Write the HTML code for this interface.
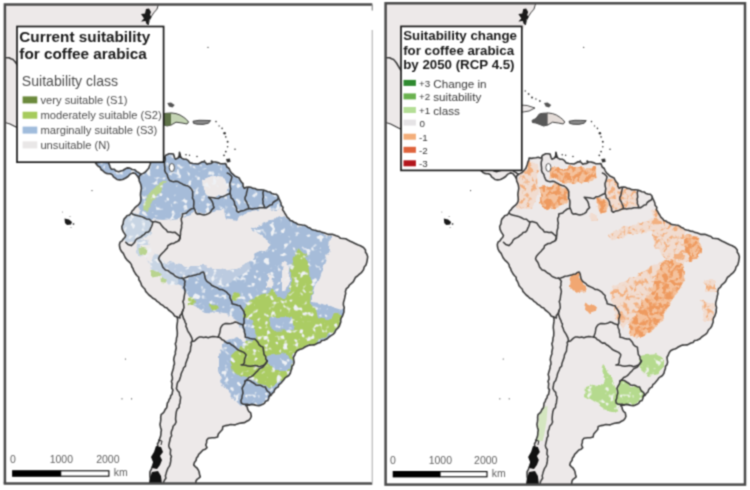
<!DOCTYPE html>
<html><head><meta charset="utf-8">
<style>
html,body{margin:0;padding:0;background:#fff;width:750px;height:490px;overflow:hidden}
svg{display:block}
text{font-family:"Liberation Sans",sans-serif}
</style></head><body>
<svg width="750" height="490" viewBox="0 0 750 490">
<defs>
<path id="land" d="M95.1,162.3 L97.3,162.4 L99.5,162.3 L101.8,162.1 L104.0,161.3 L106.2,162.5 L108.4,162.3 L109.3,164.7 L110.1,167.1 L111.4,169.3 L114.1,169.2 L116.2,171.1 L118.6,171.8 L120.7,171.0 L122.8,170.5 L124.7,169.3 L127.1,167.9 L129.8,168.1 L132.2,169.5 L134.9,169.8 L136.7,171.6 L139.0,172.8 L141.0,174.4 L143.1,173.4 L145.1,172.3 L146.9,170.3 L148.7,168.3 L149.4,166.2 L150.2,164.2 L150.7,162.1 L151.7,160.1 L152.0,158.0 L154.3,158.4 L156.6,158.0 L159.0,157.7 L161.3,157.2 L163.6,158.0 L164.5,158.0 L165.5,155.5 L169.0,153.8 L171.3,153.8 L173.5,154.0 L174.5,157.5 L175.4,159.2 L178.0,158.0 L179.2,156.0 L179.5,152.3 L180.1,154.4 L180.5,156.5 L182.0,158.4 L183.9,159.3 L186.0,159.2 L188.3,160.7 L190.1,162.9 L192.9,163.5 L195.8,163.7 L198.0,164.0 L200.0,163.0 L202.3,161.7 L205.0,162.0 L207.0,164.3 L209.0,163.6 L211.2,163.4 L213.0,162.0 L215.4,162.0 L217.8,162.6 L220.0,163.6 L222.8,163.8 L225.7,163.6 L227.0,167.0 L229.1,168.5 L230.1,170.8 L231.4,172.9 L233.2,174.4 L234.8,176.0 L237.0,177.0 L239.2,178.0 L240.2,180.1 L241.4,182.0 L243.0,183.6 L243.0,186.1 L244.3,188.3 L246.3,187.2 L248.6,187.0 L250.8,187.3 L252.8,188.4 L255.0,188.5 L256.9,189.6 L259.1,189.7 L261.2,189.8 L263.5,190.0 L265.6,190.7 L267.7,191.7 L270.0,192.0 L271.8,193.4 L273.9,194.1 L276.4,194.2 L278.0,196.0 L278.7,198.4 L280.0,200.7 L281.0,203.0 L281.2,205.3 L283.0,207.3 L282.6,209.7 L283.8,211.4 L284.8,213.2 L286.0,215.0 L287.1,217.1 L288.8,218.6 L290.3,220.4 L292.3,221.0 L294.0,222.3 L296.0,223.0 L297.9,224.4 L300.2,224.7 L302.5,225.0 L304.6,225.2 L306.4,226.1 L308.1,227.4 L310.0,228.0 L311.7,229.5 L313.7,230.0 L315.9,230.4 L317.8,231.2 L320.0,231.4 L321.9,232.4 L324.0,232.7 L326.0,233.5 L327.9,234.4 L330.1,234.4 L332.3,234.2 L334.2,235.0 L336.2,235.8 L338.5,236.5 L340.5,238.3 L343.0,238.5 L345.7,238.7 L347.9,240.0 L350.2,241.2 L352.6,242.3 L355.0,243.5 L357.7,244.8 L360.4,245.8 L363.5,247.5 L365.5,250.0 L365.5,252.2 L366.8,254.0 L367.7,256.7 L367.3,259.6 L366.8,262.3 L366.0,265.0 L364.2,267.1 L363.5,269.8 L362.2,271.6 L360.8,273.2 L359.0,274.5 L357.5,276.0 L355.6,277.2 L354.6,279.2 L353.4,281.6 L351.5,283.3 L349.5,285.0 L348.3,287.2 L346.2,288.9 L345.4,291.4 L345.7,293.6 L345.1,295.7 L344.7,297.9 L344.2,300.0 L343.5,302.4 L343.4,304.9 L344.3,307.4 L343.9,309.8 L343.9,312.0 L343.2,314.0 L342.5,316.0 L341.3,317.8 L340.7,319.8 L340.8,322.0 L340.0,324.1 L339.3,326.2 L338.0,328.0 L335.9,330.0 L334.7,332.7 L333.0,334.4 L331.0,335.7 L329.0,337.0 L326.8,339.1 L324.0,340.3 L321.7,340.5 L320.2,342.5 L318.0,343.0 L316.0,344.0 L314.0,344.9 L311.7,345.0 L309.3,345.1 L307.1,346.0 L305.0,347.0 L303.3,348.2 L301.4,348.9 L299.5,349.5 L297.1,350.8 L295.5,353.0 L294.7,355.2 L293.4,357.2 L293.7,359.7 L294.1,362.3 L293.4,364.8 L291.9,366.4 L291.8,368.6 L291.0,370.5 L290.3,373.2 L288.8,375.5 L286.9,376.7 L285.1,377.9 L283.8,379.8 L282.3,381.5 L280.8,383.3 L278.9,384.7 L278.2,386.9 L276.0,388.1 L274.6,389.7 L274.0,392.0 L272.3,393.4 L271.0,395.2 L269.1,396.3 L268.7,398.5 L267.8,400.6 L265.7,401.2 L264.6,403.2 L262.9,404.3 L260.9,405.1 L258.9,405.6 L256.8,405.5 L254.4,404.9 L252.0,404.4 L249.5,404.9 L245.8,405.5 L247.3,407.1 L247.6,409.2 L248.8,411.3 L250.7,412.8 L251.3,416.5 L250.4,418.5 L248.9,420.2 L246.7,421.3 L244.6,422.6 L242.1,422.9 L239.6,423.2 L237.2,423.9 L235.2,424.9 L233.0,424.7 L230.8,424.5 L228.7,425.1 L225.8,425.6 L222.9,426.4 L222.4,429.5 L220.3,431.7 L218.3,434.0 L217.6,437.0 L214.8,437.7 L212.0,437.8 L208.3,438.3 L206.7,440.3 L206.6,442.8 L205.7,445.0 L207.0,447.6 L205.3,449.3 L203.0,450.0 L200.3,452.9 L198.7,454.4 L197.9,456.4 L196.5,458.0 L196.0,460.5 L194.4,462.5 L193.7,464.9 L195.2,466.6 L197.0,468.0 L198.1,469.7 L199.0,471.5 L199.5,474.2 L200.3,476.8 L198.8,478.2 L197.1,479.3 L196.0,481.0 L195.6,483.9 L193.7,486.0 L191.6,485.7 L189.5,485.5 L187.4,485.7 L185.4,485.8 L183.3,486.1 L181.2,487.0 L179.1,486.1 L177.0,485.8 L174.9,485.5 L172.8,485.8 L170.8,485.7 L168.7,486.1 L166.6,487.0 L164.5,486.2 L162.4,485.9 L160.3,485.4 L158.2,485.9 L156.2,485.6 L154.1,486.0 L152.0,486.9 L149.9,486.0 L150.0,483.6 L150.3,481.2 L150.4,478.9 L150.0,476.5 L149.9,474.1 L150.0,471.6 L151.3,469.4 L152.0,467.0 L153.1,464.9 L153.8,462.7 L154.3,460.3 L155.2,458.2 L155.6,456.1 L156.5,454.2 L156.7,452.1 L157.6,450.2 L157.5,448.0 L157.8,446.0 L157.5,443.8 L158.7,442.0 L159.3,440.0 L159.9,438.0 L160.6,436.1 L160.9,434.1 L161.0,432.0 L161.4,430.0 L160.5,427.2 L160.0,424.3 L160.5,421.9 L160.8,419.5 L160.7,417.1 L161.1,414.7 L162.9,413.2 L164.3,411.4 L165.2,409.4 L166.7,407.7 L167.1,405.5 L167.3,403.2 L168.6,401.4 L169.1,399.4 L170.4,397.7 L170.7,395.7 L172.1,394.1 L172.4,392.0 L172.9,390.0 L171.7,388.0 L171.9,385.7 L172.1,383.5 L171.4,381.4 L172.4,379.2 L172.3,376.9 L171.6,374.5 L172.2,372.2 L172.9,370.0 L173.5,368.0 L173.6,366.0 L174.4,364.1 L174.3,362.0 L173.7,359.9 L174.0,357.9 L174.5,356.0 L175.4,354.0 L175.3,352.0 L175.7,350.0 L176.2,348.0 L175.9,346.0 L175.3,343.9 L176.0,342.0 L176.4,340.0 L176.5,338.0 L177.2,336.0 L177.3,334.0 L177.3,332.0 L177.1,330.0 L176.8,327.9 L176.9,325.7 L177.2,323.6 L177.5,321.4 L177.6,319.2 L177.1,317.1 L174.5,315.9 L173.0,313.5 L170.8,311.7 L168.6,310.0 L167.0,308.1 L164.7,307.2 L163.0,305.5 L160.8,304.4 L159.1,302.7 L157.1,301.4 L155.4,299.4 L152.9,298.3 L151.0,296.5 L149.0,295.0 L147.4,293.2 L145.7,291.4 L145.0,289.2 L143.3,287.5 L141.7,285.8 L141.0,283.5 L140.1,281.5 L138.9,279.7 L138.7,277.3 L137.1,275.7 L135.7,274.1 L134.7,272.3 L133.6,270.5 L133.0,268.5 L131.8,266.8 L131.4,264.6 L130.2,262.9 L128.6,261.4 L126.9,259.8 L125.5,258.1 L124.5,256.0 L123.3,253.4 L121.4,251.4 L120.2,249.1 L119.6,246.7 L119.4,244.4 L120.1,242.2 L122.1,240.8 L123.5,238.8 L125.0,237.3 L125.7,235.4 L123.5,232.1 L122.2,229.4 L121.8,226.5 L123.1,223.8 L123.5,220.8 L124.2,218.9 L125.7,217.4 L126.9,215.8 L129.5,215.0 L131.3,213.0 L132.0,211.0 L133.6,209.6 L134.8,207.8 L136.4,206.4 L138.1,205.1 L139.6,203.5 L140.6,201.7 L140.9,199.5 L140.8,197.3 L140.5,195.1 L140.6,192.9 L141.0,190.7 L141.4,188.3 L141.1,185.9 L140.5,183.6 L139.3,181.2 L139.0,178.5 L136.9,175.4 L135.3,173.5 L132.9,172.9 L129.8,174.4 L128.0,176.5 L125.7,178.0 L122.7,179.5 L119.8,179.9 L117.0,179.5 L115.3,178.1 L113.5,176.9 L112.4,174.9 L110.5,173.7 L108.4,173.7 L106.3,173.4 L104.4,172.3 L102.9,170.7 L101.0,169.5 L100.2,167.2 L98.2,166.2 L96.5,164.4 Z"/>
<path id="ca" d="M0,0 L160,0 L158.2,5.2 L157,9.1 L153.7,12.9 L151.5,16.2 L149.3,20.6 L148.2,25 L140,40 L120,80 L100,120 L96,150 L60,140 L30,133 L21,129.5 L16,127 L10,124 L5,122.5 L0,122 Z"/>
<clipPath id="landclip"><use href="#land"/></clipPath>
<filter id="soft" x="0" y="0" width="750" height="490" filterUnits="userSpaceOnUse" color-interpolation-filters="sRGB"><feConvolveMatrix order="3" kernelMatrix="0.04387 0.12171 0.04387 0.12171 0.33767 0.12171 0.04387 0.12171 0.04387" divisor="1" edgeMode="duplicate"/></filter>
<filter id="rough" x="0" y="0" width="750" height="490" filterUnits="userSpaceOnUse">
<feTurbulence type="fractalNoise" baseFrequency="0.12" numOctaves="2" seed="21" result="t"/>
<feDisplacementMap in="SourceGraphic" in2="t" scale="7" xChannelSelector="R" yChannelSelector="G"/></filter>
<clipPath id="colclip"><path d="M136,165 L150,160 L165,155 L185,156 L205,160 L228,163 L235,175 L245,185 L262,188 L280,195 L282,205 L278,210 L265,209 L250,211 L240,216 L236,214 L230,210 L226,206 L215,213 L205,214 L196,210 L192,213 L180,218 L165,220 L150,219 L140,216 Z"/><path d="M222,200 L236,200 L240,215 L236,222 L226,220 Z"/><path d="M95,160 L141,160 L143,182 L95,182 Z"/><path d="M160,268 L170,262 L185,266 L200,266 L215,268 L232,270 L240,268 L250,262 L255,254 L262,252 L268,250 L272,244 L262,236 L252,229 L268,222 L285,216 L295,222 L308,225 L318,231 L330,236 L329,250 L322,268 L318,280 L313,291 L313,302 L330,306 L346,311 L346,330 L330,338 L310,345 L296,352 L292,360 L290,372 L282,372 L270,352 L260,345 L248,338 L242,330 L240,322 L230,315 L220,313 L205,312 L192,305 L186,295 L182,285 L172,280 L164,275 Z"/><path d="M224,342 L236,337 L250,345 L262,352 L275,355 L290,360 L292,372 L285,385 L272,398 L260,406 L240,406 L230,396 L223,384 L220,368 L220,355 Z"/><path d="M122,214 L140,214 L152,220 L152,235 L140,240 L128,244 L121,236 Z"/><path d="M135,240 L148,240 L152,252 L160,258 L168,266 L176,272 L178,285 L170,285 L162,277 L152,268 L145,258 L136,252 Z"/><path d="M299,249 L306,256 L309,265 L311,280 L312,292 L311,305 L318,310 L330,313 L341,315 L343,318 L339,325 L333,333 L322,339 L310,345 L298,351 L293,356 L291,372 L287,376 L280,382 L270,387 L260,384 L250,379 L240,376 L232.9,370 L230,358.6 L238.6,350 L245,344 L247,332 L244,320 L243,312 L248,304 L256,297 L268,292 L280,289 L291,281 L291,268 L293,258 Z"/><path d="M187,299 L190,297 L194,298 L195,301 L192,304 L188,303 Z"/><path d="M211,306 L214,304 L218,305 L219,308 L216,311 L212,310 Z"/><path d="M232,296 L236,293 L240,295 L239,300 L235,302 L232,300 Z"/></clipPath>
<clipPath id="colclipR"><path d="M267.6,354.7 L281,353.1 L289.4,358 L289.4,367.8 L284.4,374.3 L274.4,375.9 L265.9,369.4 L265.1,361.2 Z"/><path d="M245.2,381 L249.5,380.4 L254.4,383.5 L258,385.3 L265.4,387.1 L270.3,394.5 L269.1,396.3 L267.8,400.6 L262.9,404.3 L256.8,405.5 L249.5,404.9 L243.4,404.3 L240.9,400.6 L242.1,395.7 L243.4,385.9 Z"/><path d="M227.8,364.0 L232.9,370.0 L237.0,380.0 L241.1,390.0 L243.2,398.0 L244.2,410.0 L235.0,413.0 L224.7,405.0 L216.5,400.0 L208.3,396.0 L209.3,387.0 L219.6,384.0 L228.8,386.0 L227.8,378.0 L225.7,370.0 Z"/></clipPath>
<filter id="spkW" x="0" y="0" width="750" height="490" filterUnits="userSpaceOnUse">
<feTurbulence type="fractalNoise" baseFrequency="0.17" numOctaves="2" seed="11" result="n"/>
<feColorMatrix in="n" type="matrix" values="0 0 0 0 0  0 0 0 0 0  0 0 0 0 0  0 0 0 7 -4.1" result="m0"/>
<feGaussianBlur in="m0" stdDeviation="0.5" result="m"/>
<feComposite in="SourceGraphic" in2="m" operator="in"/></filter>
<filter id="spkO" x="0" y="0" width="750" height="490" filterUnits="userSpaceOnUse">
<feTurbulence type="fractalNoise" baseFrequency="0.2" numOctaves="2" seed="5" result="n"/>
<feColorMatrix in="n" type="matrix" values="0 0 0 0 0  0 0 0 0 0  0 0 0 0 0  0 0 0 7 -3.0" result="m0"/>
<feGaussianBlur in="m0" stdDeviation="0.5" result="m"/>
<feComposite in="SourceGraphic" in2="m" operator="in"/></filter>
<filter id="spkO2" x="0" y="0" width="750" height="490" filterUnits="userSpaceOnUse">
<feTurbulence type="fractalNoise" baseFrequency="0.2" numOctaves="2" seed="8" result="n"/>
<feColorMatrix in="n" type="matrix" values="0 0 0 0 0  0 0 0 0 0  0 0 0 0 0  0 0 0 7 -3.6" result="m0"/>
<feGaussianBlur in="m0" stdDeviation="0.5" result="m"/>
<feComposite in="SourceGraphic" in2="m" operator="in"/></filter>
<clipPath id="clipL"><rect x="5" y="5" width="367" height="478"/></clipPath>
<clipPath id="clipR"><rect x="385.5" y="4" width="359" height="480"/></clipPath>
<g id="borders" fill="none" stroke="#3a3a3a" stroke-width="1.55" stroke-linejoin="round" stroke-linecap="round">
<polyline points="165.0,157.0 165.3,159.6 164.5,162.0 164.4,164.1 164.6,166.2 164.9,168.3 164.7,170.4 165.5,172.4 167.1,174.2 167.6,176.5 168.5,178.6 169.6,180.6 171.6,181.3 173.6,181.8 175.9,181.2 177.9,181.6 179.8,182.7 181.8,183.6 183.7,184.8 185.8,185.5 188.0,186.0 190.0,187.5 191.6,189.4 192.7,191.7 192.6,193.9 192.7,196.0 192.4,198.2 193.7,200.2 193.9,202.4 193.8,204.5 193.6,206.7 194.3,208.7 195.2,210.5 195.7,212.6 197.3,214.1 199.6,213.8 201.7,214.4 203.9,215.0 206.2,214.5 208.4,213.6 210.4,212.3 211.8,209.6 214.1,207.6 213.3,205.7 213.0,203.7 212.3,201.9 211.3,200.1 208.5,197.3 211.0,197.4 213.5,197.8 216.0,198.3 218.7,198.4 220.9,196.7 223.5,196.4 225.6,195.4 227.8,194.3 230.0,193.6"/>
<polyline points="227.2,173.0 229.1,173.9 230.6,175.3 231.9,176.8 231.4,179.1 230.6,181.4 229.8,183.6 230.0,186.1 230.7,188.6 230.2,191.1 230.0,193.6 230.8,195.5 231.0,197.8 232.8,199.2 234.4,201.8 234.7,204.8 235.9,206.5 236.6,208.5 236.6,210.8 238.4,212.3 241.1,210.9 244.0,210.4 246.7,209.2 249.6,208.5 252.1,209.1 254.5,208.5 257.0,208.5 259.4,207.7 262.0,207.8 264.5,207.6 266.6,207.6 268.3,206.3 270.0,205.1 272.0,204.8 273.1,202.5 275.2,201.0 277.6,199.8 278.5,197.3"/>
<polyline points="247.7,188.0 247.2,190.4 246.6,192.7 246.2,195.1 245.0,197.3 245.1,199.8 246.5,201.8 247.4,204.0 248.4,206.1 248.7,208.5"/>
<polyline points="263.6,190.8 262.9,192.8 263.2,195.0 263.4,197.1 262.7,199.2 263.1,201.3 263.0,203.5 264.0,205.5 264.5,207.6"/>
<polyline points="193.6,208.5 191.4,208.8 189.7,210.0 188.0,211.3 186.5,213.0 184.4,213.4 182.4,214.1 182.4,216.4 181.3,218.5 181.4,220.8 182.0,223.1 181.5,225.3 181.6,227.7 180.9,230.0 180.5,232.3 180.5,234.7 179.9,237.6 179.0,240.4"/>
<polyline points="131.3,213.0 133.3,214.6 135.7,215.2 138.1,215.8 141.0,216.4 143.7,217.5 146.3,218.9 149.3,219.2 150.9,220.8 152.7,222.0 155.2,221.6 157.6,222.2 160.0,223.1 161.3,225.0 162.7,226.9 164.4,228.5 166.3,229.9 167.5,231.9 170.0,231.9 172.4,232.6 174.9,232.2 176.6,233.6 178.2,235.0 180.0,236.3 180.1,238.5 179.0,240.4"/>
<polyline points="152.7,222.0 152.4,224.3 151.6,226.5 150.6,228.4 149.8,230.5 148.2,232.1 145.9,232.5 144.4,234.3 142.6,235.4 141.0,236.9 139.0,237.9 137.0,238.8 135.5,240.3 134.7,242.2 133.1,244.0 131.3,245.6 128.0,244.4 125.7,242.2"/>
<polyline points="179.0,240.4 177.3,241.5 175.4,242.3 173.7,243.4 171.6,243.5 169.8,244.5 167.8,245.7 167.3,248.0 165.7,249.6 164.3,251.2 162.7,252.7 161.0,254.5 159.4,256.4 158.6,258.8 159.7,260.8 161.1,262.6 162.0,264.7 162.7,266.9 164.0,268.5 165.4,270.0 167.7,270.4 169.2,271.7 170.8,273.0 173.1,274.0 174.8,275.8 176.9,277.1 179.4,277.9 182.0,278.2"/>
<polyline points="182.0,278.2 184.4,278.1 186.6,277.3 188.8,276.2 191.2,276.1 193.3,275.6 195.4,275.1 197.4,274.2 199.6,274.1 201.4,272.5 203.5,272.0 204.5,274.3 204.8,276.8 205.5,279.2 206.7,281.1 208.4,282.4 210.3,283.6 211.6,285.3 213.6,286.2 215.6,287.1 217.7,288.0 219.5,289.4 221.9,289.5 223.9,290.4 226.2,291.8 228.0,293.8 230.0,295.5 229.9,297.7 230.8,299.6 231.8,301.6 232.0,303.7 234.0,304.2 236.1,304.7 238.1,305.4 240.2,305.7 241.1,307.8 242.6,309.6 243.9,311.5 244.3,313.9 245.1,314.7 244.6,316.9 243.9,319.1 244.1,321.3 244.0,323.6 242.9,324.8"/>
<polyline points="182.0,278.2 183.7,279.5 185.1,281.2 184.6,283.2 184.7,285.3 183.9,287.3 184.7,289.4 185.1,291.5 184.8,293.5 184.3,295.6 184.1,297.6 183.8,299.6 182.9,301.6 183.6,303.7 183.8,305.8 184.0,307.8 183.1,309.8 182.3,311.8 181.5,313.9 179.9,315.6 180.0,318.0 177.1,317.1"/>
<polyline points="183.1,309.8 182.3,312.2 182.3,314.7 182.9,316.6 183.5,318.5 184.6,320.3 185.1,322.3 186.2,324.0 185.9,326.3 186.8,328.1 187.5,330.3 188.6,332.3 189.9,334.1 190.9,336.2 191.9,338.2 192.4,340.5 191.0,342.4 191.4,344.7 190.7,346.8 190.5,349.0 190.3,351.2 189.2,353.1 188.2,355.1 188.0,357.3 187.2,359.4 186.4,361.6 185.6,363.7 185.4,366.1 183.6,367.8 182.9,370.0 181.9,372.0 181.1,374.0 180.7,376.2 180.0,378.3 179.3,380.4 177.7,382.2 177.1,384.3 176.8,386.5 176.4,388.6 177.6,390.7 179.3,392.4 179.6,395.0 180.7,397.1 180.3,400.0 180.0,402.9 179.2,405.1 179.1,407.5 177.2,409.2 176.4,411.4 176.0,414.2 175.7,417.1 175.6,419.5 176.1,422.0 175.0,424.3 173.1,426.3 172.5,429.0 171.4,431.4 171.2,433.6 171.6,435.8 170.3,437.8 170.0,440.0 169.3,442.8 168.7,445.6 169.3,447.7 170.7,449.7 170.4,452.1 170.3,454.4 171.4,456.4 170.7,458.4 170.8,460.5 170.5,462.5 170.0,464.5 169.3,466.4 168.0,468.1 167.2,470.0 166.5,471.9 166.0,473.9 165.4,475.9 165.9,478.2 164.6,480.0 163.6,481.9 163.3,484.0"/>
<polyline points="192.4,341.6 194.5,341.0 195.9,339.6 197.5,338.2 199.2,337.1 201.4,336.9 203.7,337.4 205.9,337.1 208.2,337.8 210.4,337.1 213.0,336.4 215.6,336.8 218.2,337.1"/>
<polyline points="218.2,337.1 219.0,334.9 219.8,332.7 220.2,330.4 220.5,328.1 221.6,326.2 223.0,324.6 225.0,323.6 227.1,323.6 229.1,323.7 231.2,323.4 233.2,322.9 235.2,322.0 237.3,322.5 239.0,323.6 241.0,324.2 242.9,324.8"/>
<polyline points="242.9,324.8 243.2,327.5 244.4,330.0 244.5,332.5 245.3,334.8 245.2,337.3 247.7,337.6 250.0,338.5 252.5,339.0 255.0,339.0 256.6,340.7 258.1,342.5 259.0,344.7 260.8,346.2 263.1,347.1 263.3,349.6 263.7,352.0 264.0,354.5 265.6,356.4 265.8,359.0 267.2,361.0"/>
<polyline points="218.2,337.1 220.3,337.8 221.8,339.5 223.8,340.4 225.4,341.9 227.2,343.1 229.7,343.1 231.3,344.7 233.4,345.8 235.2,347.3 236.9,349.0 238.9,350.3 241.1,351.2 243.8,352.4 246.0,354.5 245.7,356.5 244.7,358.5 244.4,360.5 244.4,362.6 243.2,364.4 241.1,365.0 243.4,365.1 245.7,365.2 247.9,366.1 250.2,366.3 252.5,365.9 254.7,365.6 256.9,365.8 259.0,366.7 261.5,365.9 264.0,365.0 265.9,363.2 267.2,361.0"/>
<polyline points="267.2,361.0 265.7,363.5 264.0,365.9 262.5,367.4 260.5,368.2 258.7,369.4 257.4,371.1 255.8,372.4 254.4,374.0 252.9,375.6 251.1,376.7 249.0,377.4 247.6,379.0 245.2,381.0"/>
<polyline points="245.2,381.0 244.7,383.6 243.4,385.9 242.1,388.2 242.7,390.8 243.0,393.3 242.1,395.7 241.9,398.3 240.9,400.6 241.3,403.0 243.4,404.3 245.5,404.3 247.5,404.3 249.5,404.9"/>
<polyline points="245.2,381.0 247.3,380.1 249.5,380.4 251.9,382.0 254.4,383.5 255.9,384.9 258.0,385.3 260.6,385.3 262.9,386.7 265.4,387.1 266.2,389.2 267.3,391.2 269.4,392.4 270.3,394.5 269.1,396.3"/>
<polyline points="141.0,174.4 139.2,176.1 139.0,178.5"/>
<polyline points="0.0,57.5 2.5,56.7 5.0,57.5 7.0,57.7 9.0,57.8 10.9,58.8 13.0,59.5 14.6,61.2 16.0,63.0 17.5,65.5 19.0,68.0 20.3,70.2 22.0,72.0"/>
<polyline points="171.0,113.5 171.8,115.7 171.4,117.9 171.0,120.1 170.5,122.3 171.0,124.5"/>
</g>
</defs>
<g filter="url(#soft)">
<rect x="0" y="0" width="750" height="490" fill="#fff"/>

<!-- LEFT MAP -->
<g clip-path="url(#clipL)">

<use href="#ca" fill="#ede9e9"/>
<path d="M0,122 L5,122.5 L10,124 L16,127 L21,129.5 L30,133" fill="none" stroke="#3a3a3a" stroke-width="1.1"/>
<path d="M160,0 L158.2,5.2 L157,9.1 L153.7,12.9 L151.5,16.2 L149.3,20.6 L148.2,25" fill="none" stroke="#3a3a3a" stroke-width="1"/>
<use href="#land" fill="#ede9e9"/>
<g clip-path="url(#landclip)">
<g filter="url(#rough)">
<path d="M136,165 L150,160 L165,155 L185,156 L205,160 L228,163 L235,175 L245,185 L262,188 L280,195 L282,205 L278,210 L265,209 L250,211 L240,216 L236,214 L230,210 L226,206 L215,213 L205,214 L196,210 L192,213 L180,218 L165,220 L150,219 L140,216 Z" fill="#a6bcd9"/>
<path d="M222,200 L236,200 L240,215 L236,222 L226,220 Z" fill="#a6bcd9"/>
<path d="M95,160 L141,160 L143,182 L95,182 Z" fill="#a6bcd9"/>
<path d="M160,268 L170,262 L185,266 L200,266 L215,268 L232,270 L240,268 L250,262 L255,254 L262,252 L268,250 L272,244 L262,236 L252,229 L268,222 L285,216 L295,222 L308,225 L318,231 L330,236 L329,250 L322,268 L318,280 L313,291 L313,302 L330,306 L346,311 L346,330 L330,338 L310,345 L296,352 L292,360 L290,372 L282,372 L270,352 L260,345 L248,338 L242,330 L240,322 L230,315 L220,313 L205,312 L192,305 L186,295 L182,285 L172,280 L164,275 Z" fill="#a6bcd9"/>
<path d="M224,342 L236,337 L250,345 L262,352 L275,355 L290,360 L292,372 L285,385 L272,398 L260,406 L240,406 L230,396 L223,384 L220,368 L220,355 Z" fill="#a6bcd9"/>
<path d="M122,214 L140,214 L152,220 L152,235 L140,240 L128,244 L121,236 Z" fill="#c8d5e4"/>
<path d="M135,240 L148,240 L152,252 L160,258 L168,266 L176,272 L178,285 L170,285 L162,277 L152,268 L145,258 L136,252 Z" fill="#c8d5e4"/>
<path d="M160,268 L170,262 L185,266 L200,266 L215,268 L232,270 L240,268 L250,262 L252,268 L240,276 L230,281 L222,286 L212,285 L205,279 L203.5,272 L191,276 L182,278 L176,277 L168,273 Z" fill="#bccbe0"/>
<path d="M203,180 L212,176 L224,178 L228,185 L226,196 L212,198 L204,192 Z" fill="#ede9e9"/>
<path d="M283,262 L290,265 L289,280 L285,292 L281,290 L282,275 Z" fill="#ede9e9"/>
<path d="M267,275 L273,276 L272,289 L267,288 Z" fill="#ede9e9"/>
<path d="M140,246 L150,246 L156,256 L150,262 L142,256 Z" fill="#ede9e9"/>
<path d="M299,249 L306,256 L309,265 L311,280 L312,292 L311,305 L318,310 L330,313 L341,315 L343,318 L339,325 L333,333 L322,339 L310,345 L298,351 L293,356 L291,372 L287,376 L280,382 L270,387 L260,384 L250,379 L240,376 L232.9,370 L230,358.6 L238.6,350 L245,344 L247,332 L244,320 L243,312 L248,304 L256,297 L268,292 L280,289 L291,281 L291,268 L293,258 Z" fill="#abcc63"/>
<path d="M187,299 L190,297 L194,298 L195,301 L192,304 L188,303 Z" fill="#abcc63"/>
<path d="M211,306 L214,304 L218,305 L219,308 L216,311 L212,310 Z" fill="#abcc63"/>
<path d="M232,296 L236,293 L240,295 L239,300 L235,302 L232,300 Z" fill="#abcc63"/>
<path d="M142,211 L145,203 L150,194 L156,186 L163,180 L167,180 L164,186 L158,194 L152,203 L147,212 Z" fill="#b9d48f"/>
<path d="M139,250 L142,248 L146,249 L147,252 L144,254 L140,253 Z" fill="#b9d48f"/>
<path d="M151,273 L154,270 L159,271 L161,275 L157,278 L152,277 Z" fill="#b9d48f"/>
<path d="M160,279 L164,277 L168,280 L165,283 L161,282 Z" fill="#b9d48f"/>
<path d="M268,355 L285,352 L292,360 L290,371 L275,371 L268,365 Z" fill="#a6bcd9"/>
<path d="M245.2,381 L249.5,380.4 L254.4,383.5 L258,385.3 L265.4,387.1 L270.3,394.5 L269.1,396.3 L267.8,400.6 L262.9,404.3 L256.8,405.5 L249.5,404.9 L243.4,404.3 L240.9,400.6 L242.1,395.7 L243.4,385.9 Z" fill="#a6bcd9"/>
<path d="M243,318 L254,318 L256,340 L245,341 Z" fill="#a6bcd9"/>
<path d="M274,276 L291,274 L291,290 L285,299 L276,298 L273,288 Z" fill="#a6bcd9"/>
<path d="M270,317 L291,317 L293,330 L272,331 Z" fill="#a6bcd9"/>
<path d="M315,308 L326,309 L335,313 L330,320 L318,318 Z" fill="#a6bcd9"/>
<path d="M283,262 L290,265 L289,280 L286,292 L282,291 L282,275 Z" fill="#ede9e9"/>
</g>
<g clip-path="url(#colclip)"><rect x="0" y="0" width="380" height="490" fill="#eef1f5" filter="url(#spkW)"/></g>
</g>
<use href="#land" fill="none" stroke="#3a3a3a" stroke-width="1.6" stroke-linejoin="round"/>
<use href="#borders"/>
<ellipse cx="171.8" cy="167.5" rx="2.6" ry="4" fill="#fff" stroke="#3c3c3c" stroke-width="0.9"/>

<path d="M143,105 L150,105.5 L158,108 L152,111 L146,112 L143,112 Z" fill="#ede9e9" stroke="#333" stroke-width="0.9"/>
<path d="M155,120.5 L159,118.5 L162.5,114 L166,113.3 L172,113 L176,113.6 L180,115 L184,117.5 L186.5,119.5 L188.6,122 L187,124 L182,123 L176,122.2 L171.5,124.8 L167,126 L163,124.5 L159,123 L155.5,122.5 Z" fill="#c4d4b4" stroke="#2a2a2a" stroke-width="0.9"/>
<path d="M155,120.5 L159,118.5 L162.5,114 L166,113.3 L171,113.2 L171,124.9 L167,126 L163,124.5 L159,123 L155.5,122.5 Z" fill="#5e7248"/>
<path d="M193,121.2 L199,120.3 L205,120.4 L210.6,120.6 L208.5,123.2 L203,124.4 L197,124.2 L193.5,123.3 Z" fill="#8a8a8a" stroke="#333" stroke-width="0.9"/>
<path d="M167.3,103 L171,102.4 L174.7,105 L172.5,107.5 L169,106.5 Z" fill="#555"/>
<circle cx="148" cy="91" r="0.8" fill="#444"/><circle cx="151.5" cy="94" r="0.9" fill="#444"/><circle cx="155" cy="97.5" r="1.1" fill="#444"/><circle cx="159" cy="99" r="0.8" fill="#444"/><circle cx="163" cy="101" r="0.9" fill="#444"/>

<circle cx="216" cy="121.6" r="0.8" fill="#333"/>
<circle cx="219.1" cy="125.9" r="0.7" fill="#333"/>
<circle cx="222.1" cy="128.4" r="0.8" fill="#333"/>
<circle cx="224.6" cy="133.3" r="1.3" fill="#333"/>
<circle cx="225.8" cy="136.9" r="0.8" fill="#333"/>
<circle cx="227.6" cy="141.8" r="1.0" fill="#333"/>
<circle cx="227.6" cy="146.7" r="0.8" fill="#333"/>
<circle cx="225.8" cy="151.6" r="0.9" fill="#333"/>
<circle cx="224" cy="155.3" r="0.9" fill="#333"/>
<circle cx="235" cy="149.2" r="0.8" fill="#333"/>
<circle cx="186" cy="154.7" r="0.8" fill="#333"/>
<circle cx="189.5" cy="155.3" r="0.7" fill="#333"/>
<circle cx="197" cy="156.5" r="0.8" fill="#333"/>
<circle cx="204.4" cy="160.8" r="0.8" fill="#333"/>
<circle cx="211.7" cy="161.4" r="1.1" fill="#333"/>
<circle cx="208" cy="47.4" r="0.6" fill="#333"/>
<circle cx="92" cy="190.6" r="0.6" fill="#333"/>
<circle cx="125.5" cy="359" r="0.6" fill="#333"/>
<circle cx="122" cy="398.8" r="0.6" fill="#333"/>
<circle cx="131.6" cy="398.8" r="0.6" fill="#333"/>
<path d="M226,159 L230,158.5 L230.5,162 L227,162.5 Z" fill="#333"/>
<path d="M178.5,158 L179.5,151.6 L181.5,158 Z" fill="#333"/>
<path d="M156,446 L161,447 L163,452 L160,456 L162,460 L160,465 L157,469 L152,468 L153,462 L151,457 L154,452 Z" fill="#111"/>
<path d="M152,472 L158,471 L161,476 L162,484 L149,484 L150,478 Z" fill="#111"/>
<path d="M158,440 L162,441 L161,445" fill="none" stroke="#222" stroke-width="1"/>
<path d="M64.5,218.5 L69,219.5 L72,222 L71,224.5 L67,225 L65,223 Z" fill="#1a1a1a"/><circle cx="73.5" cy="224" r="0.9" fill="#555"/><circle cx="70" cy="216.5" r="0.6" fill="#777"/><circle cx="71" cy="227.5" r="0.6" fill="#777"/><circle cx="62.5" cy="212" r="0.6" fill="#888"/>
<path d="M146,9 L149,8.5 L151,12 L150,15 L151.5,17 L149,20 L148.5,25 L146.5,24 L145.5,21 L141,21.5 L144,18.5 L141,14 L145,13.5 Z" fill="#1a1a1a"/>

</g>
<path d="M4.9,483.6 L4.9,4.5 L372.3,4.5" fill="none" stroke="#4a4a4a" stroke-width="2.5"/>
<path d="M3.7,483.6 L372.3,483.6" fill="none" stroke="#4a4a4a" stroke-width="2.5"/>
<path d="M372.3,30 L372.3,483" fill="none" stroke="#c2c2c2" stroke-width="1.4"/>
<path d="M372.3,4.5 L372.3,10.5" fill="none" stroke="#9a9a9a" stroke-width="1.4"/>

<!-- RIGHT MAP -->
<g clip-path="url(#clipR)">
<g transform="translate(380.9,0) scale(0.975,1)">

<use href="#ca" fill="#ede9e9"/>
<path d="M0,122 L5,122.5 L10,124 L16,127 L21,129.5 L30,133" fill="none" stroke="#3a3a3a" stroke-width="1.1"/>
<path d="M160,0 L158.2,5.2 L157,9.1 L153.7,12.9 L151.5,16.2 L149.3,20.6 L148.2,25" fill="none" stroke="#3a3a3a" stroke-width="1"/>
<use href="#land" fill="#ede9e9"/>
<g clip-path="url(#landclip)">
<g filter="url(#rough)">
<path d="M144.8,162.8 L160.1,162.8 L162.3,188.4 L155.7,209.7 L140.4,209.7 L138.3,192.7 Z" fill="#f1dcd0"/>
<path d="M230.2,179.9 L245.4,177.7 L249.8,192.7 L247.6,209.7 L236.7,211.9 L232.3,199.1 Z" fill="#f1dcd0"/>
<path d="M247.6,188.4 L263.0,190.5 L263.0,205.5 L249.8,207.6 Z" fill="#f1dcd0"/>
<path d="M232.3,235.3 L249.8,226.8 L271.7,222.5 L289.2,214.0 L291.4,228.9 L276.1,231.1 L254.2,235.3 L236.7,239.6 Z" fill="#f1dcd0"/>
<path d="M278.3,209.7 L289.2,209.7 L289.2,222.5 L278.3,222.5 Z" fill="#f1dcd0"/>
<path d="M214.8,214.0 L221.3,214.0 L221.3,220.4 L214.8,220.4 Z" fill="#f1dcd0"/>
<path d="M329.3,301.0 L341.6,303.0 L341.6,322.0 L331.4,322.0 Z" fill="#f1dcd0"/>
<path d="M332.4,280.0 L344.7,280.0 L344.7,292.0 L332.4,292.0 Z" fill="#f1dcd0"/>
<path d="M278.1,222.0 L294.5,220.0 L312.9,230.0 L310.9,250.0 L317.0,262.0 L302.7,262.0 L290.4,258.0 L282.2,248.0 L278.1,236.0 Z" fill="#f1dcd0"/>
<path d="M237.0,286.0 L257.5,278.0 L276.0,268.0 L288.3,262.0 L282.2,276.0 L277.0,291.0 L266.8,306.0 L256.5,322.0 L247.3,330.0 L240.1,316.0 L236.0,300.0 Z" fill="#f1dcd0"/>
<g filter="url(#spkO2)"><path d="M144.8,162.8 L160.1,162.8 L162.3,188.4 L155.7,209.7 L140.4,209.7 L138.3,192.7 Z" fill="#f2b080"/>
<path d="M230.2,179.9 L245.4,177.7 L249.8,192.7 L247.6,209.7 L236.7,211.9 L232.3,199.1 Z" fill="#f2b080"/>
<path d="M247.6,188.4 L263.0,190.5 L263.0,205.5 L249.8,207.6 Z" fill="#f2b080"/>
<path d="M232.3,235.3 L249.8,226.8 L271.7,222.5 L289.2,214.0 L291.4,228.9 L276.1,231.1 L254.2,235.3 L236.7,239.6 Z" fill="#f2b080"/>
<path d="M278.3,209.7 L289.2,209.7 L289.2,222.5 L278.3,222.5 Z" fill="#f2b080"/>
<path d="M214.8,214.0 L221.3,214.0 L221.3,220.4 L214.8,220.4 Z" fill="#f2b080"/>
<path d="M329.3,301.0 L341.6,303.0 L341.6,322.0 L331.4,322.0 Z" fill="#f2b080"/>
<path d="M332.4,280.0 L344.7,280.0 L344.7,292.0 L332.4,292.0 Z" fill="#f2b080"/>
<path d="M278.1,222.0 L294.5,220.0 L312.9,230.0 L310.9,250.0 L317.0,262.0 L302.7,262.0 L290.4,258.0 L282.2,248.0 L278.1,236.0 Z" fill="#f2b080"/>
<path d="M237.0,286.0 L257.5,278.0 L276.0,268.0 L288.3,262.0 L282.2,276.0 L277.0,291.0 L266.8,306.0 L256.5,322.0 L247.3,330.0 L240.1,316.0 L236.0,300.0 Z" fill="#f2b080"/></g>
<path d="M171.1,167.1 L219.2,167.1 L221.3,179.9 L210.5,182.0 L197.3,184.1 L186.4,182.0 L173.2,177.7 Z" fill="#f4c29d"/>
<path d="M162.3,188.4 L181.9,184.1 L192.9,188.4 L192.9,199.1 L181.9,207.6 L168.8,209.7 L162.3,203.3 Z" fill="#f4c29d"/>
<path d="M223.6,196.9 L232.3,201.2 L232.3,211.9 L225.7,214.0 L221.3,205.5 Z" fill="#f4c29d"/>
<path d="M312.9,234.0 L325.2,236.0 L329.3,246.0 L326.3,258.0 L317.0,260.0 L310.9,250.0 Z" fill="#f4c29d"/>
<path d="M288.3,262.0 L299.6,259.0 L310.9,264.0 L312.9,275.0 L305.7,288.0 L297.5,302.0 L290.4,316.0 L280.1,330.0 L265.7,337.0 L254.5,335.0 L256.5,322.0 L266.8,306.0 L277.0,291.0 L282.2,276.0 Z" fill="#f4c29d"/>
<g filter="url(#spkO)"><path d="M171.1,167.1 L219.2,167.1 L221.3,179.9 L210.5,182.0 L197.3,184.1 L186.4,182.0 L173.2,177.7 Z" fill="#ee9a5f"/>
<path d="M162.3,188.4 L181.9,184.1 L192.9,188.4 L192.9,199.1 L181.9,207.6 L168.8,209.7 L162.3,203.3 Z" fill="#ee9a5f"/>
<path d="M223.6,196.9 L232.3,201.2 L232.3,211.9 L225.7,214.0 L221.3,205.5 Z" fill="#ee9a5f"/>
<path d="M312.9,234.0 L325.2,236.0 L329.3,246.0 L326.3,258.0 L317.0,260.0 L310.9,250.0 Z" fill="#ee9a5f"/>
<path d="M288.3,262.0 L299.6,259.0 L310.9,264.0 L312.9,275.0 L305.7,288.0 L297.5,302.0 L290.4,316.0 L280.1,330.0 L265.7,337.0 L254.5,335.0 L256.5,322.0 L266.8,306.0 L277.0,291.0 L282.2,276.0 Z" fill="#ee9a5f"/></g>
<path d="M195.0,275.0 L202.2,272.0 L206.3,282.0 L210.4,291.0 L200.1,293.0 L193.9,287.0 Z" fill="#f1a772"/>
<path d="M211.4,305.0 L216.5,303.0 L221.6,306.0 L220.6,312.0 L214.5,314.0 L210.4,310.0 Z" fill="#f1a772"/>
<path d="M267.6,354.7 L281,353.1 L289.4,358 L289.4,367.8 L284.4,374.3 L274.4,375.9 L265.9,369.4 L265.1,361.2 Z" fill="#b5da8e"/>
<path d="M245.2,381 L249.5,380.4 L254.4,383.5 L258,385.3 L265.4,387.1 L270.3,394.5 L269.1,396.3 L267.8,400.6 L262.9,404.3 L256.8,405.5 L249.5,404.9 L243.4,404.3 L240.9,400.6 L242.1,395.7 L243.4,385.9 Z" fill="#b5da8e"/>
<path d="M227.8,364.0 L232.9,370.0 L237.0,380.0 L241.1,390.0 L243.2,398.0 L244.2,410.0 L235.0,413.0 L224.7,405.0 L216.5,400.0 L208.3,396.0 L209.3,387.0 L219.6,384.0 L228.8,386.0 L227.8,378.0 L225.7,370.0 Z" fill="#b5da8e"/>
</g>
<g clip-path="url(#colclipR)"><rect x="0" y="0" width="380" height="490" fill="#eef3ea" filter="url(#spkW)"/></g>
<path d="M164,408 L171,406 L170,420 L168,432 L166,441 L160,441 L161,428 L162,415 Z" fill="#d4e6c0"/>
</g>
<use href="#land" fill="none" stroke="#3a3a3a" stroke-width="1.6" stroke-linejoin="round"/>
<use href="#borders"/>
<ellipse cx="171.8" cy="167.5" rx="2.6" ry="4" fill="#fff" stroke="#3c3c3c" stroke-width="0.9"/>

<path d="M143,105 L150,105.5 L158,108 L152,111 L146,112 L143,112 Z" fill="#ede9e9" stroke="#333" stroke-width="0.9"/>
<path d="M155,120.5 L159,118.5 L162.5,114 L166,113.3 L172,113 L176,113.6 L180,115 L184,117.5 L186.5,119.5 L188.6,122 L187,124 L182,123 L176,122.2 L171.5,124.8 L167,126 L163,124.5 L159,123 L155.5,122.5 Z" fill="#e4dcd8" stroke="#2a2a2a" stroke-width="0.9"/>
<path d="M155,120.5 L159,118.5 L162.5,114 L166,113.3 L171,113.2 L171,124.9 L167,126 L163,124.5 L159,123 L155.5,122.5 Z" fill="#585858"/>
<path d="M193,121.2 L199,120.3 L205,120.4 L210.6,120.6 L208.5,123.2 L203,124.4 L197,124.2 L193.5,123.3 Z" fill="#8a8a8a" stroke="#333" stroke-width="0.9"/>
<path d="M167.3,103 L171,102.4 L174.7,105 L172.5,107.5 L169,106.5 Z" fill="#555"/>
<circle cx="148" cy="91" r="0.8" fill="#444"/><circle cx="151.5" cy="94" r="0.9" fill="#444"/><circle cx="155" cy="97.5" r="1.1" fill="#444"/><circle cx="159" cy="99" r="0.8" fill="#444"/><circle cx="163" cy="101" r="0.9" fill="#444"/>

<circle cx="216" cy="121.6" r="0.8" fill="#333"/>
<circle cx="219.1" cy="125.9" r="0.7" fill="#333"/>
<circle cx="222.1" cy="128.4" r="0.8" fill="#333"/>
<circle cx="224.6" cy="133.3" r="1.3" fill="#333"/>
<circle cx="225.8" cy="136.9" r="0.8" fill="#333"/>
<circle cx="227.6" cy="141.8" r="1.0" fill="#333"/>
<circle cx="227.6" cy="146.7" r="0.8" fill="#333"/>
<circle cx="225.8" cy="151.6" r="0.9" fill="#333"/>
<circle cx="224" cy="155.3" r="0.9" fill="#333"/>
<circle cx="235" cy="149.2" r="0.8" fill="#333"/>
<circle cx="186" cy="154.7" r="0.8" fill="#333"/>
<circle cx="189.5" cy="155.3" r="0.7" fill="#333"/>
<circle cx="197" cy="156.5" r="0.8" fill="#333"/>
<circle cx="204.4" cy="160.8" r="0.8" fill="#333"/>
<circle cx="211.7" cy="161.4" r="1.1" fill="#333"/>
<circle cx="208" cy="47.4" r="0.6" fill="#333"/>
<circle cx="92" cy="190.6" r="0.6" fill="#333"/>
<circle cx="125.5" cy="359" r="0.6" fill="#333"/>
<circle cx="122" cy="398.8" r="0.6" fill="#333"/>
<circle cx="131.6" cy="398.8" r="0.6" fill="#333"/>
<path d="M226,159 L230,158.5 L230.5,162 L227,162.5 Z" fill="#333"/>
<path d="M178.5,158 L179.5,151.6 L181.5,158 Z" fill="#333"/>
<path d="M156,446 L161,447 L163,452 L160,456 L162,460 L160,465 L157,469 L152,468 L153,462 L151,457 L154,452 Z" fill="#111"/>
<path d="M152,472 L158,471 L161,476 L162,484 L149,484 L150,478 Z" fill="#111"/>
<path d="M158,440 L162,441 L161,445" fill="none" stroke="#222" stroke-width="1"/>
<path d="M64.5,218.5 L69,219.5 L72,222 L71,224.5 L67,225 L65,223 Z" fill="#1a1a1a"/><circle cx="73.5" cy="224" r="0.9" fill="#555"/><circle cx="70" cy="216.5" r="0.6" fill="#777"/><circle cx="71" cy="227.5" r="0.6" fill="#777"/><circle cx="62.5" cy="212" r="0.6" fill="#888"/>
<path d="M146,9 L149,8.5 L151,12 L150,15 L151.5,17 L149,20 L148.5,25 L146.5,24 L145.5,21 L141,21.5 L144,18.5 L141,14 L145,13.5 Z" fill="#1a1a1a"/>

</g>
</g>
<rect x="385.6" y="3.3" width="359.4" height="481.3" fill="none" stroke="#4a4a4a" stroke-width="2.5"/>

<!-- LEFT LEGEND -->
<rect x="17" y="26.5" width="146.6" height="135.7" fill="#fff" stroke="#1a1a1a" stroke-width="1.7"/>
<g font-weight="bold" font-size="15.3" fill="#1a1a1a">
<text x="19.3" y="41.9">Current suitability</text>
<text x="19.3" y="58.8">for coffee arabica</text>
</g>
<text x="21.8" y="85.8" font-size="14.1" fill="#4c4c4c">Suitability class</text>
<rect x="22.6" y="96.4" width="14.7" height="7" fill="#6c8a3d"/>
<rect x="22.6" y="111.7" width="14.7" height="7" fill="#a6cb5c"/>
<rect x="22.6" y="126.6" width="14.7" height="7" fill="#a0bcdc"/>
<rect x="22.6" y="141.4" width="14.7" height="7" fill="#e9e7e7"/>
<g font-size="11.2" fill="#4c4c4c">
<text x="40.4" y="104">very suitable (S1)</text>
<text x="40.4" y="119.3">moderately suitable (S2)</text>
<text x="40.4" y="134">marginally suitable (S3)</text>
<text x="40.4" y="148.8">unsuitable (N)</text>
</g>

<!-- RIGHT LEGEND -->
<rect x="401" y="26.4" width="120.8" height="144" fill="#fff" stroke="#1a1a1a" stroke-width="1.7"/>
<g font-weight="bold" font-size="13.3" fill="#1a1a1a">
<text x="403.2" y="40.3">Suitability change</text>
<text x="403.2" y="54.6">for coffee arabica</text>
<text x="403.2" y="69">by 2050 (RCP 4.5)</text>
</g>
<rect x="403.5" y="79.9" width="12.4" height="6" fill="#2f8a30"/>
<rect x="403.5" y="93.4" width="12.4" height="6" fill="#6ab24f"/>
<rect x="403.5" y="107" width="12.4" height="6" fill="#b4de96"/>
<rect x="403.5" y="119.6" width="12.4" height="6" fill="#e6e4e6"/>
<rect x="403.5" y="133.7" width="12.4" height="6" fill="#f3ae7b"/>
<rect x="403.5" y="146.8" width="12.4" height="6" fill="#df633c"/>
<rect x="403.5" y="160.3" width="12.4" height="6" fill="#b3161c"/>
<g font-size="9.8" fill="#333">
<text x="419" y="87.2">+3</text>
<text x="419" y="100.4">+2</text>
<text x="419" y="113.8">+1</text>
<text x="419.6" y="126.6">0</text>
<text x="419" y="140.5">-1</text>
<text x="419" y="153.8">-2</text>
<text x="419" y="167.3">-3</text>
</g>
<g font-size="11.7" fill="#383838">
<text x="433.2" y="88.1">Change in</text>
<text x="433.2" y="101.2">suitability</text>
<text x="433.2" y="114.5">class</text>
</g>

<!-- SCALE BARS -->
<g font-size="10.5" fill="#606060">
<text x="10" y="463.3">0</text>
<text x="49.7" y="463.3">1000</text>
<text x="96.2" y="463.3">2000</text>
<text x="113.7" y="476.4">km</text>
<text x="390" y="463.8">0</text>
<text x="428.7" y="463.8">1000</text>
<text x="474.1" y="463.8">2000</text>
<text x="491.8" y="477">km</text>
</g>
<rect x="12.1" y="470.2" width="48.6" height="6.6" fill="#000"/>
<rect x="60.7" y="470.8" width="48.2" height="5.4" fill="#fff" stroke="#000" stroke-width="1.1"/>
<rect x="392.7" y="471" width="47.3" height="6.4" fill="#000"/>
<rect x="440" y="471.6" width="47" height="5.2" fill="#fff" stroke="#000" stroke-width="1.1"/>
</g>
</svg>
</body></html>
